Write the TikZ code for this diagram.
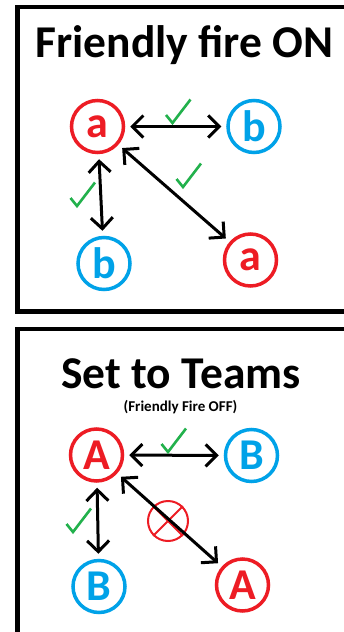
\documentclass[tikz,border=0pt]{standalone}
\usepackage{fontspec}
\setmainfont{Carlito}
\usetikzlibrary{arrows.meta}
\definecolor{pred}{HTML}{ED1C24}
\definecolor{pblue}{HTML}{00A2E8}
\definecolor{pgreen}{HTML}{22B14C}
\begin{document}
\begin{tikzpicture}[x=1pt,y=-1pt,
  team/.style={circle,line width=3.5pt,minimum size=52pt,inner sep=0pt,font=\fontsize{44}{44}\selectfont\bfseries},
  red team/.style={team,draw=pred,text=pred},
  blue team/.style={team,draw=pblue,text=pblue},
  barb/.tip={Straight Barb[length=11pt,width=22pt]},
  link/.style={line width=3pt,barb-barb,shorten <=5pt,shorten >=5pt},
  frame/.style={line width=4.5pt},
  title/.style={anchor=base,inner sep=0pt,font=\fontsize{45.5}{45.5}\selectfont\bfseries},
  subtitle/.style={anchor=base,inner sep=0pt,font=\fontsize{15}{15}\selectfont\bfseries},
  nogo/.style={circle,draw=pred,line width=2pt,minimum size=40pt,inner sep=0pt},
  okmark/.pic={\draw[pgreen,line width=2.6pt] (-6.5,-8) -- (0,0) -- (18,-23.5);},
]
\useasboundingbox (0,0) rectangle (344,632);
\clip (0,0) rectangle (344,632);
\fill[white] (0,0) rectangle (344,632);

% frames
\draw[frame] (17.5,7) rectangle (360,311.5);
\draw[frame] (17.5,329) rectangle (360,660);

% ---------- top panel ----------
\node[title] (t1) at (184.5,57.5) {Friendly fire ON};
\node[red team]  (a1) at (97.5,126.5) {a};
\node[blue team] (b1) at (254,126.5) {b};
\node[blue team] (b2) at (104,263.5) {b};
\node[red team]  (a2) at (250.5,260) {a};

\draw[link] (a1) -- (b1);
\draw[link] (a1) -- (b2);
\draw[link] (a1) -- (a2);

\pic at (172.5,123) {okmark};
\pic at (77,206) {okmark};
\pic at (183,187) {okmark};

% ---------- bottom panel ----------
\node[title] (t2) at (181,388.5) {Set to Teams};
\node[subtitle] (s2) at (180.5,411) {(Friendly Fire OFF)};
\node[red team]  (A1) at (96.5,455) {A};
\node[blue team] (B1) at (251.5,455.5) {B};
\node[blue team] (B2) at (99,586.5) {B};
\node[red team]  (A2) at (242.5,585) {A};

\node[nogo] (x) at (168,521) {};
\draw[pred,line width=2pt] (x.45) -- (x.225) (x.135) -- (x.-45);

\draw[link] (A1) -- (B1);
\draw[link] (A1) -- (B2);
\draw[link] (A1) -- (A2);

\pic at (168,452) {okmark};
\pic at (73,532) {okmark};
\end{tikzpicture}
\end{document}
